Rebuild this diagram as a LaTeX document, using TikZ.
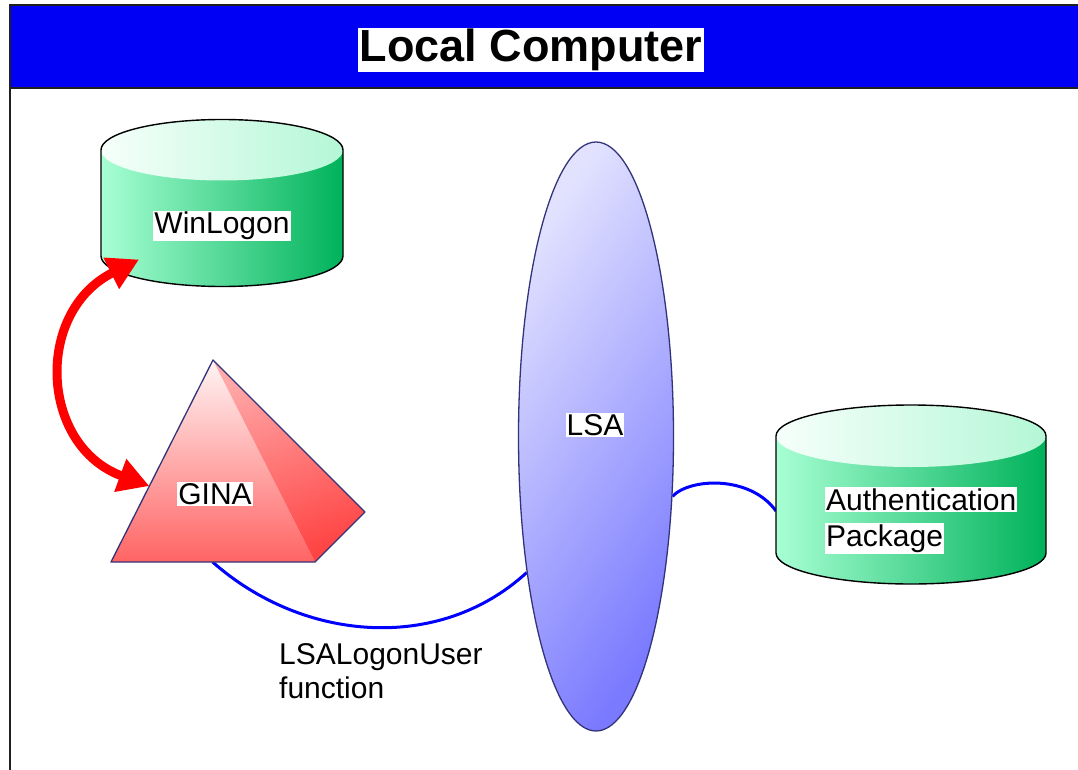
\documentclass[tikz,border=0pt]{standalone}
\usepackage{fontspec}
\setmainfont{Liberation Sans}
\usetikzlibrary{arrows.meta,shapes.geometric,calc}

\definecolor{headblue}{HTML}{0000F5}
\definecolor{framegray}{HTML}{202020}
\definecolor{drumlight}{HTML}{A8FFD4}
\definecolor{drumdark}{HTML}{00B25A}
\definecolor{lidlight}{HTML}{F6FFFB}
\definecolor{lidmint}{HTML}{B4F7D6}
\definecolor{edgenavy}{HTML}{33337A}
\definecolor{lsalight}{HTML}{E2E2FF}
\definecolor{lsamid}{HTML}{9E9EFF}
\definecolor{lsadark}{HTML}{7A7AFF}
\definecolor{pyrtop}{HTML}{FFF4F4}
\definecolor{pyrbot}{HTML}{FF6464}
\definecolor{pyrsidetop}{HTML}{FFA8A8}
\definecolor{pyrsidebot}{HTML}{FF4444}
\definecolor{linkblue}{HTML}{0000FF}
\definecolor{arrowred}{HTML}{FF0000}

\pgfdeclarelayer{framelayer}
\pgfdeclarelayer{linklayer}
\pgfsetlayers{framelayer,linklayer,main}

% drum (cylinder) with shaded body and lid
% #1 left x, #2 right x, #3 lid centre y, #4 base centre y, #5 vertical radius
\newcommand\drumshape[5]{%
  \pgfmathsetmacro\drumrx{(#2-#1)/2}%
  \pgfmathsetmacro\drumcx{(#1+#2)/2}%
  \shade[left color=drumlight, right color=drumdark]
    (#1,#3) -- (#1,#4) arc[start angle=180, end angle=360, x radius=\drumrx pt, y radius=#5pt]
    -- (#2,#3) -- cycle;
  \shade[left color=lidlight, right color=lidmint]
    (\drumcx,#3) ellipse[x radius=\drumrx pt, y radius=#5pt];
  \draw[drumedge]
    (#1,#3) arc[start angle=180, end angle=0, x radius=\drumrx pt, y radius=#5pt]
    -- (#2,#4) arc[start angle=0, end angle=-180, x radius=\drumrx pt, y radius=#5pt] -- cycle;
}

\tikzset{
  framepen/.style={draw=framegray, line width=1.5pt},
  drumedge/.style={draw=black, line width=1.4pt, line join=round},
  shapebox/.style={inner sep=0pt, outer sep=0pt, draw=none},
  tag/.style={fill=white, inner xsep=1pt, inner ysep=1.5pt, text=black,
    font=\fontsize{30}{36}\selectfont},
  plaintag/.style={inner sep=0pt, text=black, font=\fontsize{30}{36}\selectfont},
  headtitle/.style={fill=white, inner xsep=1.5pt, inner ysep=1.5pt, text=black,
    font=\fontsize{45}{54}\selectfont\bfseries},
  link/.style={draw=linkblue, line width=3pt},
  swap/.style={draw=arrowred, line width=9pt,
    {Triangle[length=31pt,width=33pt]}-{Triangle[length=31pt,width=33pt]}},
}

\begin{document}
\begin{tikzpicture}[x=1pt, y=-1pt]
\useasboundingbox (0,0) rectangle (1078,770);
\clip (0,0) rectangle (1078,770);

% outer frame and title bar
\begin{pgfonlayer}{framelayer}
  \fill[white] (0,0) rectangle (1078,770);
  \fill[headblue] (10,5) rectangle (1100,88);
  \draw[framepen] (1100,5) -- (10,5) -- (10,800);
  \draw[framepen] (10,88) -- (1100,88);
\end{pgfonlayer}
\node[headtitle] (title) at (531,50) {Local Computer};

% WinLogon drum
\node[shapebox, minimum width=242pt, minimum height=167pt] (winlogon) at (222,203) {};
\drumshape{101}{343}{150}{256}{30.5}
\node[tag] (winlogontext) at (222,226) {WinLogon};

% GINA pyramid
\node[shapebox, minimum width=254pt, minimum height=202pt] (gina) at (238,461) {};
\coordinate (apex) at ($(gina.north west)+(102pt,0pt)$);
\coordinate (frontleft) at (gina.south west);
\coordinate (frontright) at ($(gina.south west)+(204pt,0pt)$);
\coordinate (backright) at ($(gina.south east)+(0pt,50pt)$);
\shade[top color=pyrtop, bottom color=pyrbot] (apex) -- (frontleft) -- (frontright) -- cycle;
\shade[top color=pyrsidetop, bottom color=pyrsidebot, shading angle=20]
  (apex) -- (frontright) -- (backright) -- cycle;
\draw[edgenavy, line width=1.3pt, line join=round]
  (apex) -- (frontleft) -- (frontright) -- (backright) -- cycle;
\node[tag] (ginatext) at (215,494) {GINA};

% LSA
\node[ellipse, draw=edgenavy, line width=1.3pt, minimum width=155pt, minimum height=589pt,
  inner sep=0pt, top color=lsalight, middle color=lsamid, bottom color=lsadark,
  shading angle=55]
  (lsa) at (596,436.5) {};
\node[tag] (lsatext) at (595,425) {LSA};

% Authentication package drum
\node[shapebox, minimum width=270pt, minimum height=179pt] (auth) at (911,494.5) {};
\drumshape{776}{1046}{436}{553}{31}
\node[tag, anchor=base west] (authtext1) at (825,510) {Authentication};
\node[tag, anchor=base west] (authtext2) at (825,546) {Package};

% call label
\node[plaintag, anchor=base west] (calltext1) at (279,664) {LSALogonUser};
\node[plaintag, anchor=base west] (calltext2) at (279,698) {function};

% connection ports
\coordinate (winlogon-port) at ($(winlogon.south west)+(38pt,27pt)$);
\coordinate (gina-port) at ($(apex)!0.624!(frontleft)$);
\coordinate (gina-base) at ($(gina.south west)!0.4!(gina.south east)$);
\coordinate (auth-port) at ($(auth.west)+(0pt,-16.5pt)$);

% blue links
\begin{pgfonlayer}{linklayer}
  \draw[link] (gina-base) .. controls (303,642) and (439,653) .. (lsa.243);
  \draw[link] (lsa.-38) .. controls (690,478) and (750,475) .. (auth-port);
\end{pgfonlayer}

% red exchange arrow
\draw[swap] (winlogon-port) .. controls (34,312) and (40,446) .. (gina-port);
\end{tikzpicture}
\end{document}
